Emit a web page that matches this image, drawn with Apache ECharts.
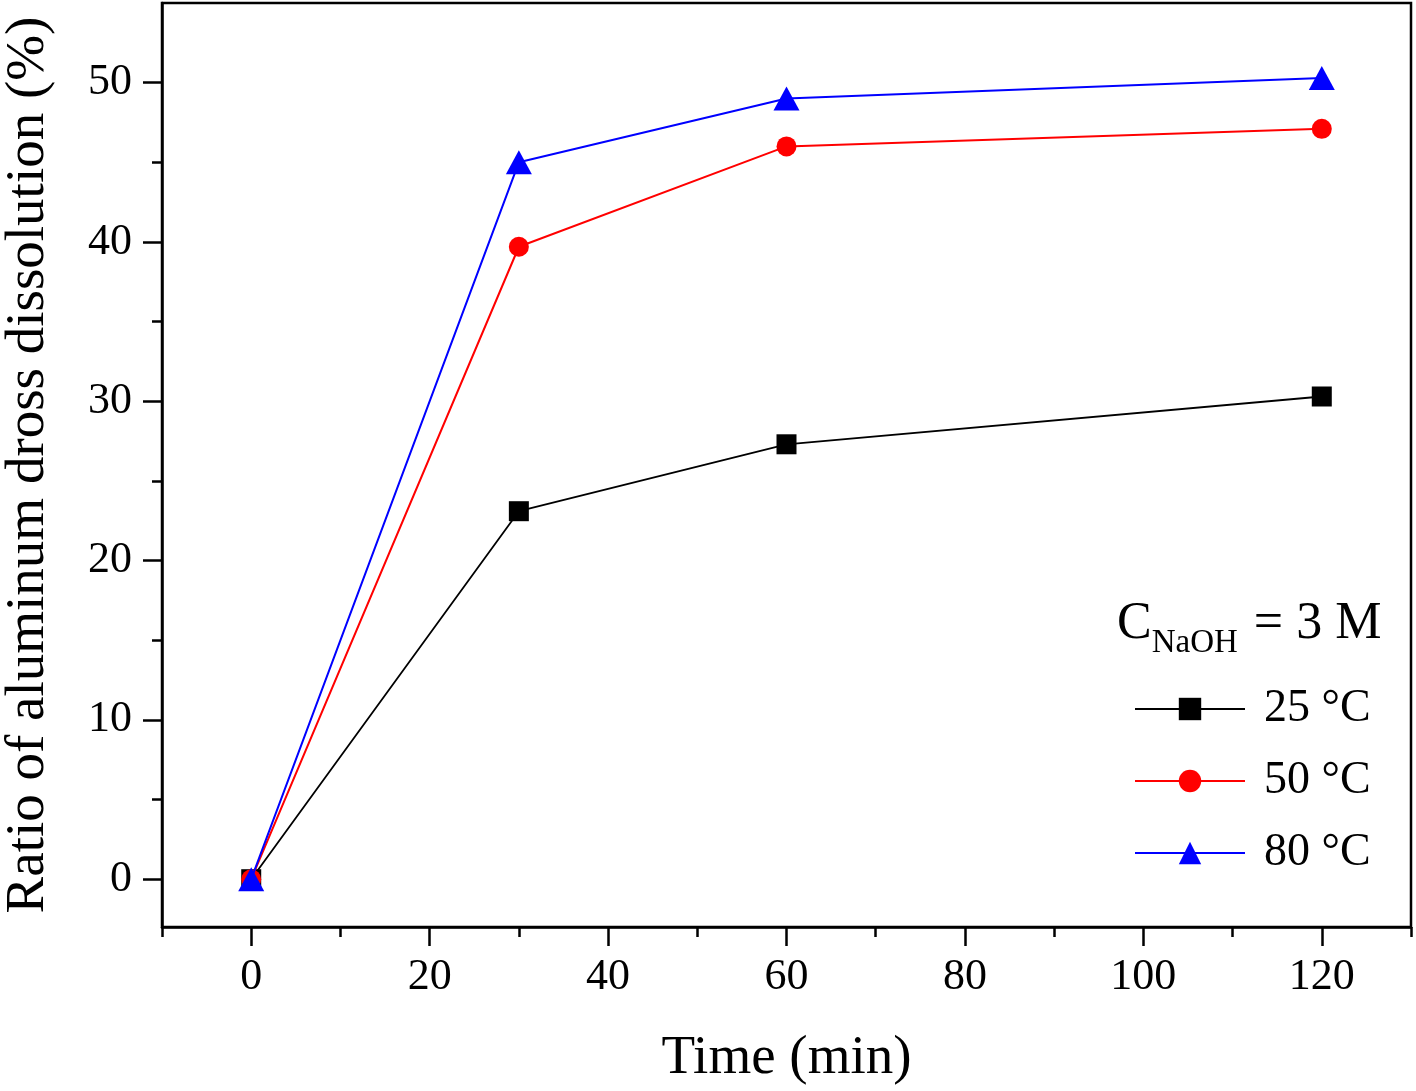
<!DOCTYPE html>
<html>
<head>
<meta charset="utf-8">
<script src="https://cdn.jsdelivr.net/npm/echarts@6/dist/echarts.min.js"></script>
<style>
html,body{margin:0;padding:0;background:#fff;}
#chart{width:1416px;height:1091px;}
</style>
</head>
<body>
<div id="chart"></div>
<script>
const times = [0, 30, 60, 120];
const seriesNames = ['25 °C', '50 °C', '80 °C'];
const s25 = [0, 23.1, 27.3, 30.3];
const s50 = [0, 39.7, 46.0, 47.1];
const s80 = [0, 45.0, 49.0, 50.3];
const xMajor = [0, 20, 40, 60, 80, 100, 120];
const xMinor = [-10, 10, 30, 50, 70, 90, 110, 130];
const yMajor = [0, 10, 20, 30, 40, 50];
const yMinor = [5, 15, 25, 35, 45];

const font = '"Liberation Serif", "Times New Roman", serif';
const chart = echarts.init(document.getElementById('chart'));

function pts(vals) { return times.map((t, i) => [t, vals[i]]); }

chart.setOption({
  animation: false,
  backgroundColor: '#fff',
  grid: {left: 162, right: 5, top: 3, bottom: 164, show: true, borderColor: '#000', borderWidth: 2.5,
         backgroundColor: 'transparent', containLabel: false, outerBoundsMode: 'none'},
  xAxis: [
    {type: 'value', min: -10, max: 130, position: 'bottom',
     name: 'Time (min)', nameLocation: 'middle', nameGap: 104,
     nameTextStyle: {fontFamily: font, fontSize: 55, color: '#000'},
     axisLine: {show: true, onZero: false, lineStyle: {color: '#000', width: 2.5}},
     axisTick: {show: true, inside: false, length: 19, lineStyle: {color: '#000', width: 2.5}, customValues: xMajor},
     axisLabel: {show: true, margin: 28, fontFamily: font, fontSize: 44, color: '#000', customValues: xMajor},
     splitLine: {show: false}},
    {type: 'value', min: -10, max: 130, position: 'bottom',
     axisLine: {show: false, onZero: false},
     axisTick: {show: true, inside: false, length: 10, lineStyle: {color: '#000', width: 2.5}, customValues: xMinor},
     axisLabel: {show: false},
     splitLine: {show: false}}
  ],
  yAxis: [
    {type: 'value', min: -3, max: 55, position: 'left',
     name: 'Ratio of aluminum dross dissolution (%)', nameLocation: 'middle', nameGap: 106,
     nameTextStyle: {fontFamily: font, fontSize: 55, color: '#000'},
     axisLine: {show: true, onZero: false, lineStyle: {color: '#000', width: 2.5}},
     axisTick: {show: true, inside: false, length: 19, lineStyle: {color: '#000', width: 2.5}, customValues: yMajor},
     axisLabel: {show: true, margin: 30, fontFamily: font, fontSize: 44, color: '#000', customValues: yMajor},
     splitLine: {show: false}},
    {type: 'value', min: -3, max: 55, position: 'left',
     axisLine: {show: false, onZero: false},
     axisTick: {show: true, inside: false, length: 10, lineStyle: {color: '#000', width: 2.5}, customValues: yMinor},
     axisLabel: {show: false},
     splitLine: {show: false}}
  ],
  legend: {
    orient: 'vertical', left: 1134, top: 686, padding: 0,
    itemWidth: 110, itemHeight: 28, itemGap: 26,
    textStyle: {fontFamily: font, fontSize: 46, color: '#000', lineHeight: 44, padding: [0, 0, 0, 14]},
    data: seriesNames
  },
  graphic: [{
    type: 'text', left: 1117, top: 598,
    style: {
      rich: {
        a: {fontFamily: font, fontSize: 52, fill: '#000'},
        b: {fontFamily: font, fontSize: 33, fill: '#000', verticalAlign: 'bottom', padding: [0, 3, -10, 0]}
      },
      text: '{a|C}{b|NaOH}{a| = 3 M}'
    }
  }],
  series: [
    {name: seriesNames[0], type: 'line', xAxisIndex: 0, yAxisIndex: 0, data: pts(s25),
     symbol: 'rect', symbolSize: 20, itemStyle: {color: '#000'}, lineStyle: {color: '#000', width: 1.8}, z: 2},
    {name: seriesNames[1], type: 'line', xAxisIndex: 0, yAxisIndex: 0, data: pts(s50),
     symbol: 'circle', symbolSize: 20, itemStyle: {color: '#ff0000'}, lineStyle: {color: '#ff0000', width: 2}, z: 3},
    {name: seriesNames[2], type: 'line', xAxisIndex: 0, yAxisIndex: 0, data: pts(s80),
     symbol: 'triangle', symbolSize: [26, 24], itemStyle: {color: '#0000ff'}, lineStyle: {color: '#0000ff', width: 2}, z: 4}
  ]
});
</script>
</body>
</html>
